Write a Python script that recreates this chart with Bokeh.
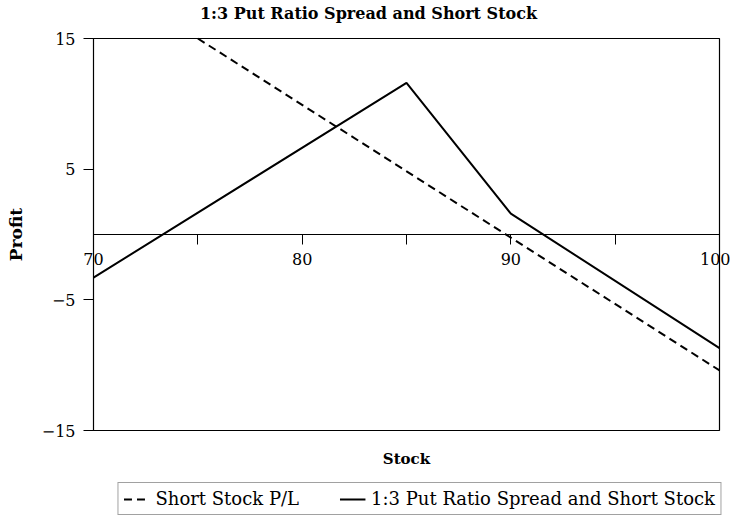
from bokeh.plotting import figure
from bokeh.models import FixedTicker, Legend, LegendItem, Label, Range1d
from bokeh.embed import file_html
from bokeh.resources import INLINE

# Data
stock_x = [75, 100]
short_stock_pl = [15, -10.4]
spread_x = [70, 85, 90, 100]
spread_pl = [-3.3, 11.6, 1.6, -8.7]
x_major = [70, 80, 90, 100]
x_minor = [75, 85, 95]
y_ticks = [-15, -5, 5, 15]

FONT = "DejaVu Serif"
W, H = 730, 524
# pixel placement of the plotting box inside the canvas
BOX_L, BOX_R, BOX_T, BOX_B = 93, 719, 38, 430

x0, x1 = x_major[0], x_major[-1]
y0, y1 = y_ticks[0], y_ticks[-1]
kx = (BOX_R - BOX_L) / (x1 - x0)
ky = (BOX_B - BOX_T) / (y1 - y0)
xr = Range1d(x0 - BOX_L / kx, x1 + (W - BOX_R) / kx)
yr = Range1d(y0 - (H - BOX_B) / ky, y1 + BOX_T / ky)

p = figure(width=W, height=H, x_range=xr, y_range=yr, title=None,
           output_backend="svg", toolbar_location=None,
           min_border_left=0, min_border_right=0,
           min_border_top=0, min_border_bottom=0)
p.grid.visible = False
p.outline_line_color = None

# plotting box
p.quad(left=[x0], right=[x1], bottom=[y0], top=[y1], fill_color=None,
       line_color="black", line_width=1.2)

xa = p.xaxis[0]
xa.fixed_location = 0
xa.bounds = (x0, x1)
xa.ticker = FixedTicker(ticks=x_major, minor_ticks=x_minor)
xa.major_tick_in = 0
xa.major_tick_out = 10
xa.minor_tick_in = 0
xa.minor_tick_out = 10
xa.major_label_standoff = 8
xa.major_label_text_font = FONT
xa.major_label_text_font_size = "16px"
xa.major_label_text_color = "black"
xa.axis_line_color = "black"
xa.major_tick_line_color = "black"
xa.minor_tick_line_color = "black"

ya = p.yaxis[0]
ya.fixed_location = x0
ya.bounds = (y0, y1)
ya.ticker = FixedTicker(ticks=y_ticks, minor_ticks=[])
ya.major_tick_in = 0
ya.major_tick_out = 10
ya.minor_tick_line_color = None
ya.major_label_standoff = 8
ya.major_label_text_font = FONT
ya.major_label_text_font_size = "16px"
ya.major_label_text_color = "black"
ya.axis_label = "Profit"
ya.axis_label_text_font = FONT
ya.axis_label_text_font_style = "bold"
ya.axis_label_text_font_size = "17px"
ya.axis_label_text_color = "black"
ya.axis_label_standoff = 13
ya.axis_line_color = "black"
ya.major_tick_line_color = "black"

p.add_layout(Label(x=368, y=H - 13, x_units="screen", y_units="screen",
                   text="1:3 Put Ratio Spread and Short Stock",
                   text_align="center", text_baseline="middle",
                   text_font=FONT, text_font_style="bold",
                   text_font_size="16px", text_color="black"))
p.add_layout(Label(x=(BOX_L + BOX_R) / 2, y=H - 458, x_units="screen", y_units="screen",
                   text="Stock", text_align="center", text_baseline="middle",
                   text_font=FONT, text_font_style="bold",
                   text_font_size="15px", text_color="black"))

r1 = p.line(stock_x, short_stock_pl, line_color="black", line_width=2,
            line_dash="8 5")
r2 = p.line(spread_x, spread_pl, line_color="black", line_width=2)

legend = Legend(items=[LegendItem(label="Short Stock P/L", renderers=[r1]),
                       LegendItem(label="1:3 Put Ratio Spread and Short Stock", renderers=[r2])],
                orientation="horizontal", location="bottom_right", margin=9,
                label_text_font=FONT, label_text_font_size="18px",
                label_text_color="black", glyph_width=26, glyph_height=16,
                label_standoff=6, padding=5, spacing=40,
                border_line_color="#444444", border_line_width=1.5,
                background_fill_alpha=0)
p.add_layout(legend, "center")

open("out.html", "w").write(file_html(p, INLINE))
